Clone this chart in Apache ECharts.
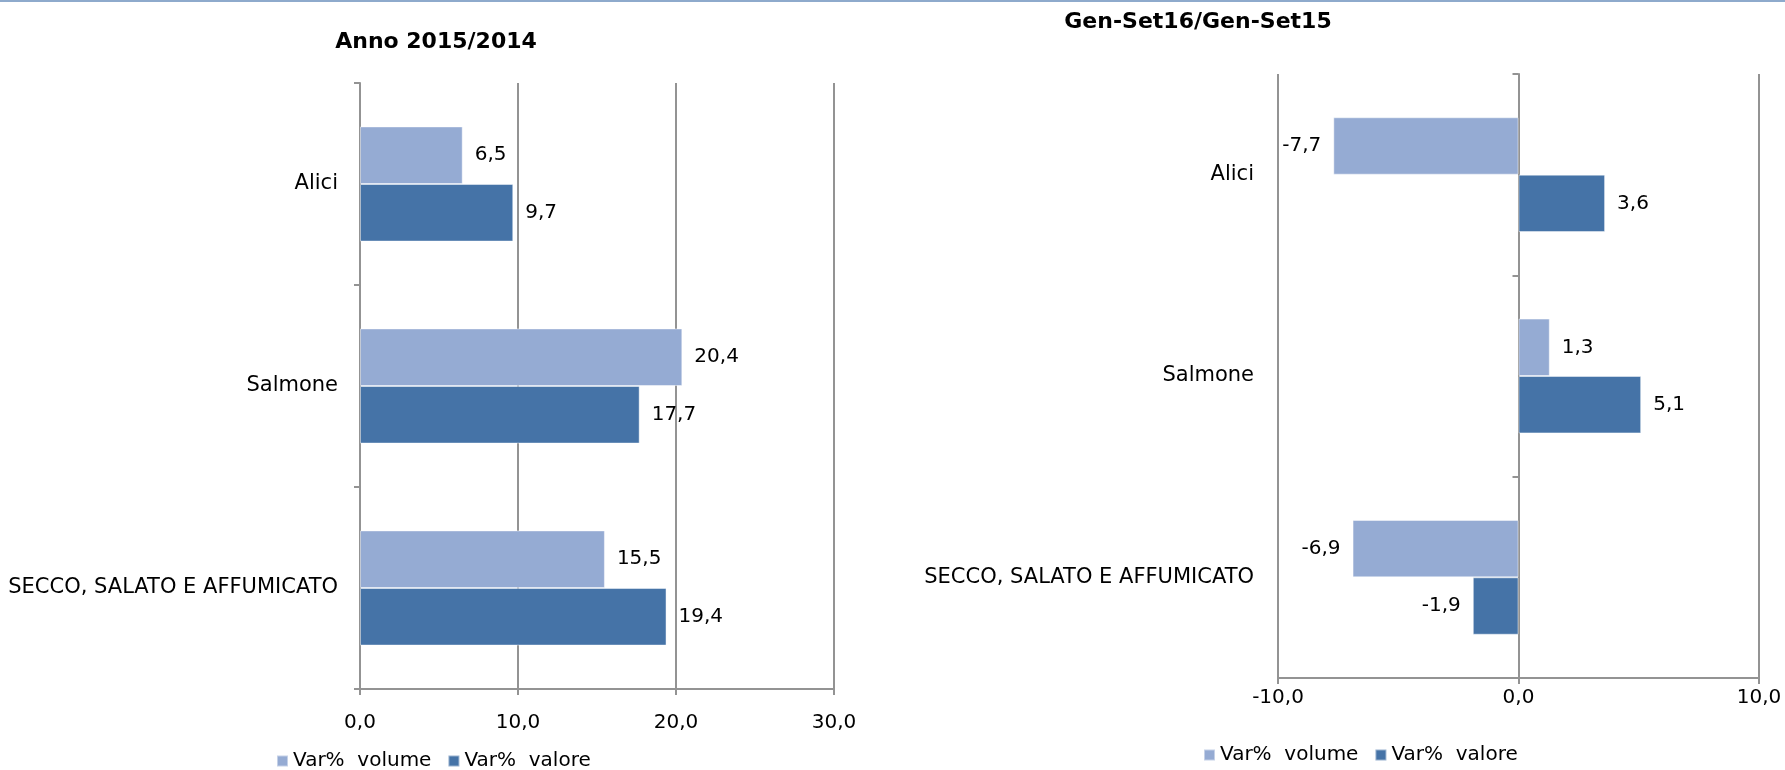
<!DOCTYPE html>
<html>
<head>
<meta charset="utf-8">
<title>Var% pesce secco, salato e affumicato</title>
<script src="https://cdn.jsdelivr.net/npm/echarts@6/dist/echarts.min.js"></script>
<style>
  html, body { margin: 0; padding: 0; background: #ffffff; }
  #chart { width: 1785px; height: 770px; }
</style>
</head>
<body>
<div id="chart"></div>
<script>
// Categories and series
const categories = ['Alici', 'Salmone', 'SECCO, SALATO E AFFUMICATO'];
const seriesNames = ['Var%  volume', 'Var%  valore'];

// Anno 2015/2014
const annoVolume = [6.5, 20.4, 15.5];
const annoValore = [9.7, 17.7, 19.4];

// Gen-Set16/Gen-Set15
const periodoVolume = [-7.7, 1.3, -6.9];
const periodoValore = [3.6, 5.1, -1.9];

// Value axis ranges
const annoAxis = { min: 0, max: 30, interval: 10 };
const periodoAxis = { min: -10, max: 10, interval: 10 };

const titles = ['Anno 2015/2014', 'Gen-Set16/Gen-Set15'];

const COLOR_VOLUME = '#95abd3';
const COLOR_VALORE = '#4573a7';
const AXIS_GRAY = '#939393';
const FONT = "'DejaVu Sans', sans-serif";

const fmt = v => Number(v).toFixed(1).replace('.', ',');

function barData(values) {
  return values.map(v => ({
    value: v,
    label: { position: v < 0 ? 'left' : 'right' }
  }));
}

function barSeries(name, values, color, gridIdx, yIdx) {
  return {
    type: 'bar',
    name: name,
    xAxisIndex: gridIdx,
    yAxisIndex: yIdx,
    data: barData(values),
    barGap: 0,
    barCategoryGap: '43%',
    itemStyle: { color: color, borderColor: 'rgba(255,255,255,0.45)', borderWidth: 1 },
    label: {
      show: true,
      distance: 12,
      color: '#000',
      fontSize: 20,
      fontFamily: FONT,
      formatter: p => fmt(p.value)
    },
    emphasis: { disabled: true },
    animation: false
  };
}

function valueAxis(gridIdx, range, labelMargin) {
  return {
    type: 'value',
    gridIndex: gridIdx,
    min: range.min,
    max: range.max,
    interval: range.interval,
    axisLine: { show: true, onZero: false, lineStyle: { color: AXIS_GRAY, width: 2 } },
    axisTick: { show: true, length: 6, lineStyle: { color: AXIS_GRAY, width: 2 } },
    axisLabel: {
      margin: labelMargin,
      color: '#000',
      fontSize: 20,
      fontFamily: FONT,
      formatter: v => fmt(v)
    },
    splitLine: { show: true, lineStyle: { color: AXIS_GRAY, width: 2 } }
  };
}

const legendItems = [
  { name: seriesNames[0], itemStyle: { color: COLOR_VOLUME } },
  { name: seriesNames[1], itemStyle: { color: COLOR_VALORE } }
];

function legend(left, top) {
  return {
    left: left,
    top: top,
    padding: 0,
    orient: 'horizontal',
    icon: 'rect',
    itemWidth: 11,
    itemHeight: 11,
    itemGap: 16,
    selectedMode: false,
    data: legendItems,
    textStyle: { color: '#000', fontSize: 20, fontFamily: FONT }
  };
}

const chart = echarts.init(document.getElementById('chart'), null, { renderer: 'canvas' });

chart.setOption({
  backgroundColor: '#ffffff',
  animation: false,
  textStyle: { fontFamily: FONT },
  title: [
    {
      text: titles[0], left: 436, top: 31, textAlign: 'center', padding: 0,
      textStyle: { fontSize: 22, fontWeight: 'bold', color: '#000', fontFamily: FONT }
    },
    {
      text: titles[1], left: 1198, top: 11, textAlign: 'center', padding: 0,
      textStyle: { fontSize: 22, fontWeight: 'bold', color: '#000', fontFamily: FONT }
    }
  ],
  graphic: [
    { type: 'rect', left: 0, top: 0, shape: { width: 1785, height: 2 }, style: { fill: '#8eaacc' }, silent: true }
  ],
  legend: [legend(276, 751), legend(1203, 745)],
  grid: [
    { left: 360, right: 951, top: 83, bottom: 81, containLabel: false, outerBoundsMode: 'none' },
    { left: 1278, right: 26, top: 74, bottom: 92, containLabel: false, outerBoundsMode: 'none' }
  ],
  xAxis: [
    valueAxis(0, annoAxis, 24),
    valueAxis(1, periodoAxis, 10)
  ],
  yAxis: [
    {
      type: 'category',
      gridIndex: 0,
      position: 'left',
      inverse: true,
      data: categories,
      axisLine: { show: true, lineStyle: { color: AXIS_GRAY, width: 2 } },
      axisTick: { show: true, length: 6, lineStyle: { color: AXIS_GRAY, width: 2 } },
      axisLabel: { margin: 22, color: '#000', fontSize: 21, fontFamily: FONT },
      splitLine: { show: false }
    },
    {
      // category names, kept at the left edge of the grid
      type: 'category',
      gridIndex: 1,
      position: 'left',
      inverse: true,
      data: categories,
      axisLine: { show: false, onZero: false },
      axisTick: { show: false },
      axisLabel: { margin: 24, color: '#000', fontSize: 21, fontFamily: FONT },
      splitLine: { show: false }
    },
    {
      // axis line and ticks drawn through zero
      type: 'category',
      gridIndex: 1,
      position: 'left',
      inverse: true,
      data: categories,
      axisLine: { show: true, onZero: true, lineStyle: { color: AXIS_GRAY, width: 2 } },
      axisTick: { show: true, length: 6, lineStyle: { color: AXIS_GRAY, width: 2 } },
      axisLabel: { show: false },
      splitLine: { show: false }
    }
  ],
  series: [
    barSeries(seriesNames[0], annoVolume, COLOR_VOLUME, 0, 0),
    barSeries(seriesNames[1], annoValore, COLOR_VALORE, 0, 0),
    barSeries(seriesNames[0], periodoVolume, COLOR_VOLUME, 1, 1),
    barSeries(seriesNames[1], periodoValore, COLOR_VALORE, 1, 1)
  ]
});
</script>
</body>
</html>
